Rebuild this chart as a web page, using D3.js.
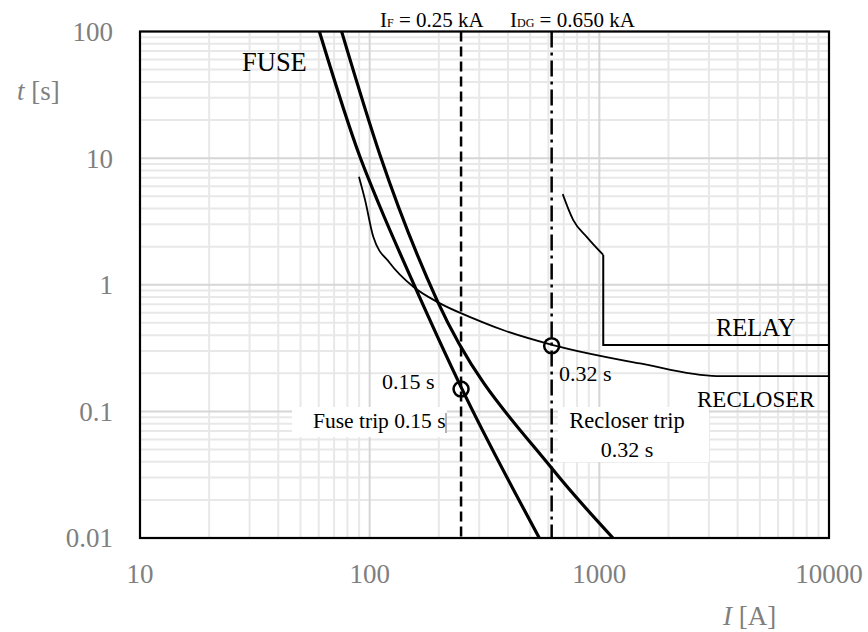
<!DOCTYPE html>
<html>
<head>
<meta charset="utf-8">
<script src="https://cdn.jsdelivr.net/npm/d3@7"></script>
<style>
  body { margin: 0; background: #fff; }
  text { font-family: "Liberation Serif", "Times New Roman", serif; }
</style>
</head>
<body>
<svg id="chart"></svg>
<script>
// axis ticks
var xTicks = [10, 100, 1000, 10000];
var yTicks = [0.01, 0.1, 1, 10, 100];

// curves: [I (A), t (s)]
var fuseMin = [[60.4,100],[90.8,10.2],[110.9,4.13],[154.9,1.03],[251.6,0.152],[548,0.01]];
var fuseMax = [[75.5,100],[110.9,10.6],[196.3,0.757],[630,0.0344],[1147,0.01]];
var recloser = [[89.8,7.13],[95.5,4.67],[103.7,2.39],[122.6,1.48],[154.9,0.964],[202.4,0.713],[282.5,0.543],[380.6,0.439],[628,0.334],[1503,0.239],[3245,0.19],[10000,0.19]];
var relay = [[692.6,5.2],[770,3.24],[881,2.39],[1040,1.72],[1040,0.334],[10000,0.334]];

// markers and vertical lines
var iFault = 250, iDG = 620;
var tripPoints = [[250,0.15],[620,0.33]];

var W = 868, H = 632;
var margin = {top: 31.5, right: 39, bottom: 94, left: 140};
var width = W - margin.left - margin.right;
var height = H - margin.top - margin.bottom;

var svg = d3.select("#chart").attr("width", W).attr("height", H);

var x = d3.scaleLog().domain([10, 10000]).range([0, width]);
var y = d3.scaleLog().domain([0.01, 100]).range([height, 0]);

var g = svg.append("g").attr("transform", "translate(" + margin.left + "," + margin.top + ")");

g.append("clipPath").attr("id", "clip")
  .append("rect").attr("width", width).attr("height", height);

//minor + major grid
var minorX = [], minorY = [];
[10, 100, 1000].forEach(function(d){ for (var k = 2; k <= 9; k++) minorX.push(d * k); });
[0.01, 0.1, 1, 10].forEach(function(d){ for (var k = 2; k <= 9; k++) minorY.push(d * k); });

var grid = g.append("g");
grid.selectAll(".vmin").data(minorX).enter().append("line")
  .attr("x1", function(d){ return x(d); }).attr("x2", function(d){ return x(d); })
  .attr("y1", 0).attr("y2", height)
  .attr("stroke", "#e8e8e8").attr("stroke-width", 2);
grid.selectAll(".hmin").data(minorY).enter().append("line")
  .attr("y1", function(d){ return y(d); }).attr("y2", function(d){ return y(d); })
  .attr("x1", 0).attr("x2", width)
  .attr("stroke", "#e8e8e8").attr("stroke-width", 2);
grid.selectAll(".vmaj").data(xTicks).enter().append("line")
  .attr("x1", function(d){ return x(d); }).attr("x2", function(d){ return x(d); })
  .attr("y1", 0).attr("y2", height)
  .attr("stroke", "#d6d6d6").attr("stroke-width", 2);
grid.selectAll(".hmaj").data(yTicks).enter().append("line")
  .attr("y1", function(d){ return y(d); }).attr("y2", function(d){ return y(d); })
  .attr("x1", 0).attr("x2", width)
  .attr("stroke", "#d6d6d6").attr("stroke-width", 2);

// white label boxes over the grid
g.append("rect").attr("x", 292 - margin.left).attr("y", 407 - margin.top)
  .attr("width", 155).attr("height", 30).attr("fill", "#fff");
g.append("rect").attr("x", 558 - margin.left).attr("y", 407 - margin.top)
  .attr("width", 151).attr("height", 55).attr("fill", "#fff");
g.append("line").attr("x1", 446 - margin.left).attr("x2", 446 - margin.left)
  .attr("y1", 413 - margin.top).attr("y2", 433 - margin.top)
  .attr("stroke", "#666").attr("stroke-width", 1);

var plot = g.append("g").attr("clip-path", "url(#clip)");

var smooth = d3.line()
  .x(function(d){ return x(d[0]); })
  .y(function(d){ return y(d[1]); })
  .curve(d3.curveMonotoneX);
var straight = d3.line()
  .x(function(d){ return x(d[0]); })
  .y(function(d){ return y(d[1]); });

// vertical current lines
plot.append("line")
  .attr("x1", x(iFault)).attr("x2", x(iFault)).attr("y1", 0).attr("y2", height)
  .attr("stroke", "#000").attr("stroke-width", 2.5).attr("stroke-dasharray", "10,5");
plot.append("line")
  .attr("x1", x(iDG)).attr("x2", x(iDG)).attr("y1", 0).attr("y2", height)
  .attr("stroke", "#000").attr("stroke-width", 2.5).attr("stroke-dasharray", "16,5,3,5");

[fuseMin, fuseMax].forEach(function(c){
  plot.append("path").datum(c).attr("d", smooth)
    .attr("fill", "none").attr("stroke", "#000").attr("stroke-width", 3.2);
});
plot.append("path").datum(recloser).attr("d", smooth)
  .attr("fill", "none").attr("stroke", "#000").attr("stroke-width", 1.8);
plot.append("path").datum(relay.slice(0, 4)).attr("d", smooth)
  .attr("fill", "none").attr("stroke", "#000").attr("stroke-width", 1.8);
plot.append("path").datum(relay.slice(3)).attr("d", straight)
  .attr("fill", "none").attr("stroke", "#000").attr("stroke-width", 2);

g.selectAll(".trip").data(tripPoints).enter().append("circle")
  .attr("cx", function(d){ return x(d[0]); })
  .attr("cy", function(d){ return y(d[1]); })
  .attr("r", 7.5).attr("fill", "none").attr("stroke", "#000").attr("stroke-width", 2.5);

// frame
g.append("rect").attr("width", width).attr("height", height)
  .attr("fill", "none").attr("stroke", "#000").attr("stroke-width", 2.2);

// tick labels
svg.selectAll(".ylab").data(yTicks).enter().append("text")
  .attr("x", 113).attr("y", function(d){ return margin.top + y(d); })
  .attr("dy", "0.35em").attr("text-anchor", "end")
  .attr("font-size", 27).attr("fill", "#7f7f7f")
  .text(function(d){ return d; });
svg.selectAll(".xlab").data(xTicks).enter().append("text")
  .attr("x", function(d){ return margin.left + x(d); }).attr("y", 583)
  .attr("text-anchor", "middle")
  .attr("font-size", 27).attr("fill", "#7f7f7f")
  .text(function(d){ return d; });

// axis titles
var tt = svg.append("text").attr("x", 17).attr("y", 100).attr("font-size", 27).attr("fill", "#7f7f7f");
tt.append("tspan").attr("font-style", "italic").text("t");
tt.append("tspan").text(" [s]");
var it = svg.append("text").attr("x", 723).attr("y", 625).attr("font-size", 27).attr("fill", "#7f7f7f");
it.append("tspan").attr("font-style", "italic").text("I");
it.append("tspan").text(" [A]");

// top labels
var l1 = svg.append("text").attr("x", 380).attr("y", 27).attr("font-size", 21);
l1.append("tspan").text("I");
l1.append("tspan").attr("font-size", 12).text("F");
l1.append("tspan").text(" = 0.25 kA");
var l2 = svg.append("text").attr("x", 510).attr("y", 27).attr("font-size", 21);
l2.append("tspan").text("I");
l2.append("tspan").attr("font-size", 12).text("DG");
l2.append("tspan").text(" = 0.650 kA");

// curve labels
svg.append("text").attr("x", 242).attr("y", 71).attr("font-size", 26.5).text("FUSE");
svg.append("text").attr("x", 716).attr("y", 336).attr("font-size", 24.5).text("RELAY");
svg.append("text").attr("x", 697).attr("y", 407).attr("font-size", 23).text("RECLOSER");
svg.append("text").attr("x", 559).attr("y", 381).attr("font-size", 22).text("0.32 s");
svg.append("text").attr("x", 382).attr("y", 389).attr("font-size", 22).text("0.15 s");
svg.append("text").attr("x", 313).attr("y", 428).attr("font-size", 21.5).text("Fuse trip 0.15 s");
svg.append("text").attr("x", 627).attr("y", 428).attr("font-size", 22.5).attr("text-anchor", "middle").text("Recloser trip");
svg.append("text").attr("x", 627).attr("y", 457).attr("font-size", 22).attr("text-anchor", "middle").text("0.32 s");
</script>
</body>
</html>
